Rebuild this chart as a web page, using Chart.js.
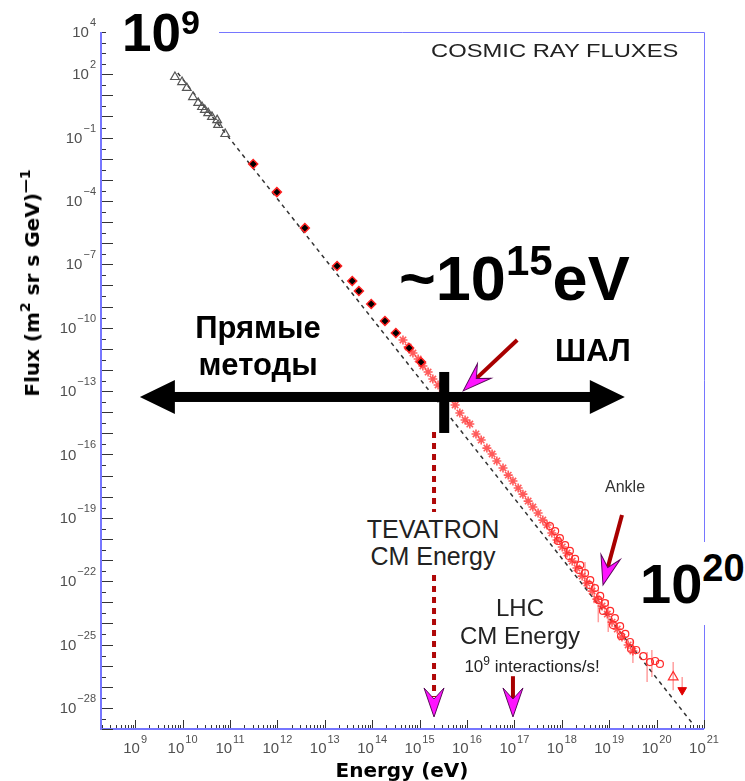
<!DOCTYPE html>
<html>
<head>
<meta charset="utf-8">
<script src="https://cdn.jsdelivr.net/npm/chart.js@4.4.1/dist/chart.umd.min.js"></script>
<style>
  body { margin: 0; background: #fff; }
  #wrap { position: relative; width: 745px; height: 781px; overflow: hidden; }
  .t { position: absolute; white-space: nowrap; line-height: 1; color: #000; }
  .slide { font-family: "Liberation Sans", Arial, sans-serif; font-weight: bold; }
  .plain { font-family: "Liberation Sans", Arial, sans-serif; }
  .up { position: relative; }
  .mask { position: absolute; background: #fff; }
</style>
</head>
<body>
<div id="wrap">
  <canvas id="chart" width="745" height="781"></canvas>

  <div class="mask" style="left:106px;top:0;width:113px;height:60px"></div>
  <div class="t slide" style="left:122px;top:6px;font-size:53px">10<span class="up" style="font-size:34px;top:-17px">9</span></div>

  <div class="t plain" style="left:431px;top:42px;font-size:18px;color:#222;transform:scaleX(1.32);transform-origin:left top">COSMIC RAY FLUXES</div>

  <div class="t slide" style="left:399px;top:247px;font-size:63px">~10<span class="up" style="font-size:42px;top:-25px">15</span>eV</div>

  <div class="t slide" style="left:186px;top:309px;font-size:31px;line-height:37px;text-align:center;width:144px">Прямые<br>методы</div>
  <div class="t slide" style="left:555px;top:335px;font-size:31px">ШАЛ</div>

  <div class="t plain" style="left:605px;top:479px;font-size:16px;color:#333">Ankle</div>

  <div class="t plain" style="left:358px;top:512px;width:150px;padding:4px 0;font-size:25px;line-height:27px;text-align:center;background:#fff;color:#222">TEVATRON<br>CM Energy</div>

  <div class="t plain" style="left:440px;top:594px;width:160px;font-size:24px;line-height:28px;text-align:center;color:#222">LHC<br>CM Energy<br><span style="font-size:17px;position:relative;left:12px">10<span class="up" style="font-size:12px;top:-7px">9</span> interactions/s!</span></div>

  <div class="mask" style="left:638px;top:542px;width:107px;height:83px"></div>
  <div class="t slide" style="left:640px;top:556px;font-size:56px">10<span class="up" style="font-size:38px;top:-22px">20</span></div>

  <div class="t" style="left:402px;top:758px;transform:translateX(-50%);font:bold 20px 'DejaVu Sans', sans-serif">Energy (eV)</div>
  <div class="t" style="left:32px;top:283px;transform:translate(-50%,-50%) rotate(-90deg);font:bold 20px 'DejaVu Sans', sans-serif">Flux (m<span class="up" style="font-size:14px;top:-9px">2</span> sr s GeV)<span class="up" style="font-size:14px;top:-9px">—1</span></div>
</div>

<script>
// all values are log10 exponents: energy in eV, flux in (m^2 sr s GeV)^-1

// direct measurements, low energy (open triangles)
const triEnergy = [9.84, 9.99, 10.09, 10.22, 10.33, 10.41, 10.47, 10.54, 10.62, 10.73, 10.75, 10.90];
const triFlux = [1.87, 1.63, 1.35, 0.92, 0.64, 0.45, 0.31, 0.16, -0.02, -0.17, -0.40, -0.83];

// balloon / satellite points (black diamonds)
const diaEnergy = [11.49, 11.99, 12.58, 13.26, 13.58, 13.72, 13.98, 14.27, 14.50, 14.78, 15.03];
const diaFlux = [-2.25, -3.58, -5.28, -7.08, -7.79, -8.26, -8.88, -9.68, -10.25, -10.96, -11.63];

// air shower points (red stars)
const starEnergy = [14.65, 14.76, 14.86, 14.97, 15.07, 15.18, 15.28, 15.39, 15.50, 15.60,
  15.75, 15.85, 15.96, 16.06, 16.19, 16.30, 16.42, 16.53, 16.63, 16.76,
  16.87, 16.97, 17.08, 17.18, 17.29, 17.39, 17.50, 17.60, 17.69,
  17.79, 17.90, 18.01, 18.11, 18.22, 18.32, 18.43, 18.53, 18.64, 18.74,
  18.85, 18.96, 19.06, 19.17, 19.27, 19.40, 19.50];
const starFlux = [-10.58, -10.91, -11.20, -11.48, -11.81, -12.10, -12.43, -12.71, -13.00, -13.33,
  -13.66, -14.04, -14.37, -14.56, -15.03, -15.32, -15.70, -15.98, -16.31, -16.64,
  -16.98, -17.26, -17.59, -17.88, -18.21, -18.49, -18.77, -19.11, -19.34,
  -19.72, -20.05, -20.38, -20.67, -21.05, -21.38, -21.76, -22.09, -22.47, -22.85,
  -23.18, -23.56, -23.94, -24.27, -24.65, -25.02, -25.31];

// highest energy air shower points (open circles)
const circEnergy = [17.75, 17.86, 17.96, 18.07, 18.17, 18.28, 18.39, 18.49, 18.60, 18.70, 18.81,
  18.91, 19.02, 19.12, 19.23, 19.34, 19.44, 19.57, 19.72, 19.86, 19.97, 20.07,
  17.92, 18.15, 18.36, 18.58, 18.77, 18.87, 19.08, 19.25, 19.46];
const circFlux = [-19.39, -19.63, -19.96, -20.29, -20.57, -20.95, -21.24, -21.62, -21.95, -22.33, -22.70,
  -23.04, -23.41, -23.75, -24.13, -24.50, -24.88, -25.26, -25.55, -25.83, -25.78, -25.92,
  -20.10, -20.81, -21.47, -22.18, -22.89, -23.41, -24.08, -24.60, -25.21];

// end points: open triangle and filled down triangle
const topTriEnergy = [20.35];
const topTriFlux = [-26.54];
const downTriEnergy = [20.54];
const downTriFlux = [-27.16];

// error bars
const errEnergy = [18.49, 18.68, 18.77, 18.98, 19.50, 19.80, 19.90, 20.35, 20.54];
const errHigh = [-21.09, -22.10, -22.42, -22.89, -24.79, -25.36, -25.26, -25.83, -26.54];
const errLow = [-22.18, -23.05, -23.94, -24.41, -25.88, -26.78, -26.54, -27.16, -27.16];

// power law guide
const fitEnergy = [9.9, 20.75];
const fitFlux = [2.06, -28.72];

// axis labels
const xLabelExps = [9, 10, 11, 12, 13, 14, 15, 16, 17, 18, 19, 20, 21];
const yLabelExps = [4, 2, -1, -4, -7, -10, -13, -16, -19, -22, -25, -28];

// annotation anchors
const arrowEnergy = [9.10, 19.33];
const arrowFlux = -13.28;
const kneeEnergy = 15.52;
const tevatronEnergy = 15.305;
const tevatronFlux = [-14.94, -28.43];
const lhcEnergy = 16.97;
const lhcFlux = [-26.5, -28.43];
const kneePointer = [[17.06, -10.58], [15.92, -12.99]];
const anklePointer = [[19.27, -18.87], [18.87, -22.18]];

const pts = (xs, ys) => xs.map((e, i) => ({ x: 10 ** e, y: 10 ** ys[i] }));

const errData = [];
errEnergy.forEach((e, i) => {
  errData.push({ x: 10 ** e, y: 10 ** errHigh[i] }, { x: 10 ** e, y: 10 ** errLow[i] }, { x: 10 ** e, y: null });
});

function head(ctx, tx, ty, ang, len, half) {
  ctx.save();
  ctx.translate(tx, ty);
  ctx.rotate(ang);
  ctx.beginPath();
  ctx.moveTo(0, 0);
  ctx.lineTo(-len, -half);
  ctx.lineTo(-len * 0.62, 0);
  ctx.lineTo(-len, half);
  ctx.closePath();
  ctx.fillStyle = '#ff14ff';
  ctx.fill();
  ctx.strokeStyle = '#5a0a5a';
  ctx.lineWidth = 1;
  ctx.stroke();
  ctx.restore();
}

function pointer(ctx, x0, y0, x1, y1) {
  const ang = Math.atan2(y1 - y0, x1 - x0);
  ctx.strokeStyle = '#a80000';
  ctx.lineWidth = 4;
  ctx.setLineDash([]);
  ctx.beginPath();
  ctx.moveTo(x0, y0);
  ctx.lineTo(x1 - Math.cos(ang) * 16, y1 - Math.sin(ang) * 16);
  ctx.stroke();
  head(ctx, x1, y1, ang, 29, 10);
}

const frame = {
  id: 'frame',
  afterDatasetsDraw(chart) {
    const { ctx, chartArea: a, scales: { x, y } } = chart;
    const X = e => x.getPixelForValue(10 ** e);
    const Y = e => y.getPixelForValue(10 ** e);
    ctx.save();

    // box
    ctx.strokeStyle = '#7676ff';
    ctx.lineWidth = 1;
    ctx.beginPath();
    ctx.moveTo(a.left, a.top + 0.5);
    ctx.lineTo(a.right + 0.5, a.top + 0.5);
    ctx.lineTo(a.right + 0.5, a.bottom);
    ctx.stroke();
    ctx.lineWidth = 2;
    ctx.beginPath();
    ctx.moveTo(a.left, a.top);
    ctx.lineTo(a.left, a.bottom);
    ctx.lineTo(a.right, a.bottom);
    ctx.stroke();

    // ticks point inward
    ctx.strokeStyle = '#333';
    ctx.lineWidth = 1;
    ctx.beginPath();
    for (let n = 8; n <= 21; n++) {
      for (let k = 1; k <= 9; k++) {
        const v = k * 10 ** n;
        if (v < x.min || v > x.max * 1.0001) continue;
        const px = Math.round(x.getPixelForValue(v)) + 0.5;
        ctx.moveTo(px, a.bottom - 1);
        ctx.lineTo(px, a.bottom - (k === 1 ? 9 : 4));
      }
    }
    for (let n = -29; n <= 4; n++) {
      for (const k of [1, 3]) {
        const v = k * 10 ** n;
        if (v < y.min || v > y.max) continue;
        const py = Math.round(y.getPixelForValue(v)) + 0.5;
        ctx.moveTo(a.left + 1, py);
        ctx.lineTo(a.left + (k === 1 ? 12 : 5), py);
      }
    }
    ctx.stroke();

    // tick labels: 10 with raised exponent
    const big = '15px "Liberation Sans", Arial, sans-serif';
    const small = '11px "Liberation Sans", Arial, sans-serif';
    const expText = e => (e < 0 ? '\u2212' + (-e) : String(e));
    ctx.fillStyle = '#505050';
    ctx.textBaseline = 'middle';
    ctx.textAlign = 'left';
    for (const e of xLabelExps) {
      const px = X(e);
      ctx.font = big;
      const bw = ctx.measureText('10').width;
      ctx.font = small;
      const sw = ctx.measureText(expText(e)).width;
      const left = px - (bw + 1 + sw) / 2;
      ctx.font = big;
      ctx.fillText('10', left, 749);
      ctx.font = small;
      ctx.fillText(expText(e), left + bw + 1, 740);
    }
    for (const e of yLabelExps) {
      const py = Y(e);
      ctx.font = small;
      const sw = ctx.measureText(expText(e)).width;
      ctx.font = big;
      const bw = ctx.measureText('10').width;
      const right = a.left - 5;
      ctx.fillText('10', right - sw - 1 - bw, py + 1);
      ctx.font = small;
      ctx.fillText(expText(e), right - sw, py - 9);
    }

    // dotted Tevatron marker
    const tx = X(tevatronEnergy);
    ctx.strokeStyle = '#b00808';
    ctx.lineWidth = 4;
    ctx.setLineDash([6, 5]);
    ctx.beginPath();
    ctx.moveTo(tx, Y(tevatronFlux[0]));
    ctx.lineTo(tx, Y(tevatronFlux[1]) - 20);
    ctx.stroke();
    ctx.setLineDash([]);
    head(ctx, tx, Y(tevatronFlux[1]), Math.PI / 2, 29, 10);

    // LHC marker
    const lx = X(lhcEnergy);
    pointer(ctx, lx, Y(lhcFlux[0]), lx, Y(lhcFlux[1]));

    // knee and ankle pointers
    pointer(ctx, X(kneePointer[0][0]), Y(kneePointer[0][1]), X(kneePointer[1][0]), Y(kneePointer[1][1]));
    pointer(ctx, X(anklePointer[0][0]), Y(anklePointer[0][1]), X(anklePointer[1][0]), Y(anklePointer[1][1]));

    // two-way arrow between direct methods and air showers
    const ay = Y(arrowFlux);
    const x0 = X(arrowEnergy[0]);
    const x1 = X(arrowEnergy[1]);
    ctx.fillStyle = '#000';
    ctx.fillRect(x0 + 30, ay - 5, x1 - x0 - 60, 10);
    ctx.beginPath();
    ctx.moveTo(x0, ay);
    ctx.lineTo(x0 + 35, ay - 17);
    ctx.lineTo(x0 + 35, ay + 17);
    ctx.closePath();
    ctx.moveTo(x1, ay);
    ctx.lineTo(x1 - 35, ay - 17);
    ctx.lineTo(x1 - 35, ay + 17);
    ctx.closePath();
    ctx.fill();

    // knee tick
    const kx = X(kneeEnergy);
    ctx.fillRect(kx - 5, ay - 25, 10, 61);

    ctx.restore();
  }
};

new Chart(document.getElementById('chart'), {
  type: 'scatter',
  data: {
    datasets: [
      {
        data: pts(diaEnergy, diaFlux),
        pointStyle: 'rectRot', pointRadius: 4.5,
        backgroundColor: '#000', borderColor: '#ff2020', borderWidth: 1.5
      },
      {
        data: pts(triEnergy, triFlux),
        pointStyle: 'triangle', pointRadius: 5,
        backgroundColor: 'rgba(255,255,255,0)', borderColor: '#555', borderWidth: 1.2
      },
      {
        data: pts(topTriEnergy, topTriFlux),
        pointStyle: 'triangle', pointRadius: 5.5,
        backgroundColor: 'rgba(255,255,255,0)', borderColor: '#ff3030', borderWidth: 1.3
      },
      {
        data: pts(downTriEnergy, downTriFlux),
        pointStyle: 'triangle', rotation: 180, pointRadius: 5,
        backgroundColor: '#e00000', borderColor: '#e00000', borderWidth: 1
      },
      {
        data: pts(starEnergy, starFlux),
        pointStyle: 'star', pointRadius: 4.5,
        backgroundColor: 'rgba(255,50,50,0.8)', borderColor: 'rgba(255,50,50,0.8)', borderWidth: 1.6
      },
      {
        data: pts(circEnergy, circFlux),
        pointStyle: 'circle', pointRadius: 3.5,
        backgroundColor: 'rgba(255,255,255,0)', borderColor: '#ff2a2a', borderWidth: 1.2
      },
      {
        data: errData,
        showLine: true, spanGaps: false, pointRadius: 0,
        borderColor: 'rgba(255,80,80,0.55)', borderWidth: 1.5
      },
      {
        data: pts(fitEnergy, fitFlux),
        showLine: true, pointRadius: 0,
        borderColor: '#333', borderWidth: 1.5, borderDash: [4, 4]
      }
    ]
  },
  options: {
    responsive: false,
    animation: false,
    layout: { padding: { left: 101, top: 32, right: 41, bottom: 52 } },
    plugins: { legend: { display: false }, tooltip: { enabled: false } },
    scales: {
      x: { type: 'logarithmic', display: false, min: 10 ** 8.28, max: 1e21 },
      y: { type: 'logarithmic', display: false, min: 1e-29, max: 1e4 }
    }
  },
  plugins: [frame]
});
</script>
</body>
</html>
